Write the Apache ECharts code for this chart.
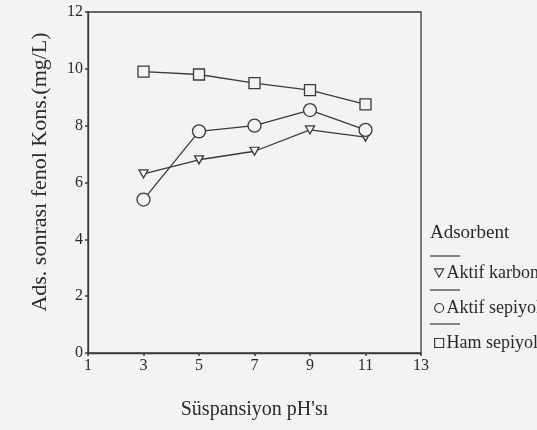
<!DOCTYPE html>
<html>
<head>
<meta charset="utf-8">
<script src="https://cdn.jsdelivr.net/npm/echarts@6/dist/echarts.min.js"></script>
<style>html,body{margin:0;padding:0;background:#f3f3f1;}#c{width:537px;height:430px;}</style>
</head>
<body>
<div id="c"></div>
<script>
var phValues = [3, 5, 7, 9, 11];
var aktifKarbon = [6.3, 6.8, 7.1, 7.85, 7.6];
var aktifSepiyolit = [5.4, 7.8, 8.0, 8.55, 7.85];
var hamSepiyolit = [9.9, 9.8, 9.5, 9.25, 8.75];
var seriesNames = ['Aktif karbon', 'Aktif sepiyolit', 'Ham sepiyolit'];
var legendTitle = 'Adsorbent';
var xName = "Süspansiyon pH'sı";
var yName = 'Ads. sonrası fenol Kons.(mg/L)';

function pairs(ys){ return phValues.map(function(x,i){ return [x, ys[i]]; }); }

var serif = '"Liberation Serif","DejaVu Serif",serif';
var ink = '#3a3a3a';
var txt = '#2a2a2a';
var bg = '#f3f3f1';
var triDown = 'path://M0,0 L10,0 L5,9 Z';

function mk(name, data, symbol, size){
  return {
    name: name, type: 'line', data: pairs(data),
    symbol: symbol, symbolSize: size,
    lineStyle: {color: ink, width: 1.3},
    itemStyle: {color: bg, borderColor: ink, borderWidth: 1.3},
    emphasis: {disabled: true}, animation: false
  };
}

var chart = echarts.init(document.getElementById('c'));
chart.setOption({
  backgroundColor: bg,
  animation: false,
  grid: {left: 88, right: 116, top: 12, bottom: 77, show: true, borderColor: ink, borderWidth: 1.3, backgroundColor: 'transparent'},
  xAxis: {
    type: 'value', min: 1, max: 13, interval: 2,
    name: xName, nameLocation: 'middle', nameGap: 47,
    nameTextStyle: {fontFamily: serif, fontSize: 20, color: txt},
    axisLine: {lineStyle: {color: ink, width: 1.3}},
    axisTick: {length: 3, lineStyle: {color: ink, width: 1.5}},
    axisLabel: {fontFamily: serif, fontSize: 16, color: txt, margin: 5},
    splitLine: {show: false}
  },
  yAxis: {
    type: 'value', min: 0, max: 12, interval: 2,
    name: yName, nameLocation: 'middle', nameGap: 37,
    nameTextStyle: {fontFamily: serif, fontSize: 22, color: txt, padding: [0, 0, 0, 21]},
    axisLine: {lineStyle: {color: ink, width: 1.3}},
    axisTick: {length: 3, lineStyle: {color: ink, width: 1.5}},
    axisLabel: {fontFamily: serif, fontSize: 16, color: txt, margin: 5},
    splitLine: {show: false}
  },
  legend: {
    orient: 'vertical', left: 429, top: 259, itemGap: 17,
    itemWidth: 9, itemHeight: 9, selectedMode: false,
    data: [
      {name: seriesNames[0], icon: triDown},
      {name: seriesNames[1], icon: 'circle'},
      {name: seriesNames[2], icon: 'rect'}
    ],
    itemStyle: {color: bg, borderColor: ink, borderWidth: 1.2},
    textStyle: {fontFamily: serif, fontSize: 18, color: txt, padding: [0,0,0,-2]}
  },
  graphic: [
    {type: 'text', left: 430, top: 224, style: {text: legendTitle, font: '19px ' + serif, fill: txt}},
    {type: 'line', shape: {x1: 430, y1: 256, x2: 460, y2: 256}, style: {stroke: ink, lineWidth: 1.2}},
    {type: 'line', shape: {x1: 430, y1: 290, x2: 460, y2: 290}, style: {stroke: ink, lineWidth: 1.2}},
    {type: 'line', shape: {x1: 430, y1: 324, x2: 460, y2: 324}, style: {stroke: ink, lineWidth: 1.2}}
  ],
  series: [
    mk(seriesNames[0], aktifKarbon, triDown, [9, 8]),
    mk(seriesNames[1], aktifSepiyolit, 'circle', 13),
    mk(seriesNames[2], hamSepiyolit, 'rect', 11)
  ]
});
</script>
</body>
</html>
